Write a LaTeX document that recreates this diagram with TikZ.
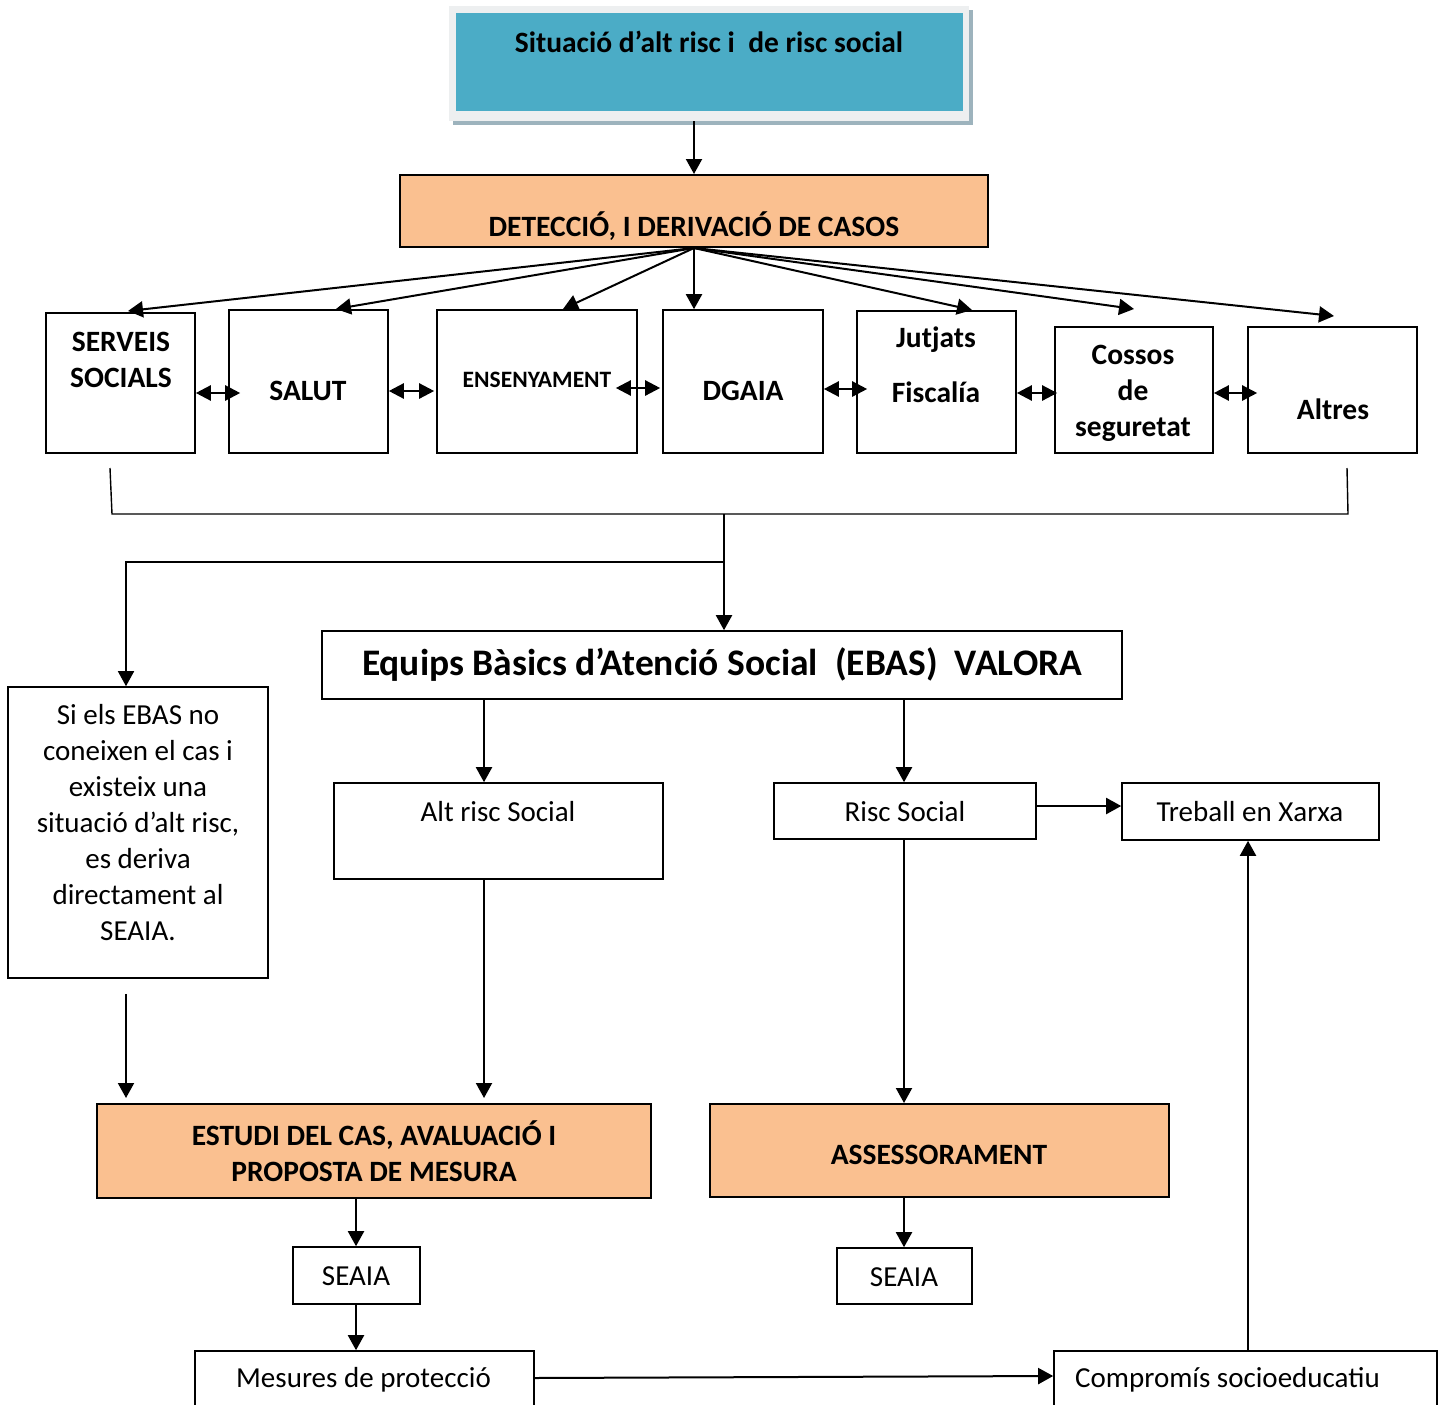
\documentclass[tikz,border=0pt]{standalone}
\usepackage{fontspec}
\setmainfont{Carlito}
\usetikzlibrary{arrows.meta,fit}
\definecolor{tealbox}{HTML}{4BACC6}
\definecolor{orangebox}{HTML}{FAC090}
\definecolor{framegray}{HTML}{EDEFF0}
\definecolor{shadowgray}{HTML}{9DB3BD}
\begin{document}
\begin{tikzpicture}[x=1pt,y=-1pt,
  box/.style={draw,line width=1.6pt,inner sep=0pt},
  obox/.style={box,fill=orangebox,line width=2pt},
  bt/.style={font=\fontsize{29.5}{36}\selectfont\bfseries,inner sep=0pt,align=center},
  rt/.style={font=\fontsize{29}{36}\selectfont,inner sep=0pt,align=center},
  arr/.style={line width=2pt,-{Triangle[length=15pt,width=16pt]}},
  darr/.style={line width=2.4pt,{Triangle[length=15pt,width=15pt]}-{Triangle[length=15pt,width=15pt]}},
  thin/.style={line width=1.4pt}]
\useasboundingbox (0,0) rectangle (1448,1405);
\clip (0,0) rectangle (1448,1405);

% guides for vertical connectors
\coordinate (gL) at (126,0);
\coordinate (gA) at (484,0);
\coordinate (gE) at (356,0);
\coordinate (gR) at (904,0);
\coordinate (gT) at (1248,0);

% title box with its raised frame
\fill[shadowgray] (453,10) rectangle (973,125);
\fill[framegray] (449,6) rectangle (969,121);
\node[fit={(449,6) (969,121)},inner sep=0pt] (topframe) {};
\node[fill=tealbox,inner sep=0pt,fit={(456,13) (963,111)}] (top) {};
\node[bt] (ttop) at (709,42) {Situació d’alt risc i\ \ de risc social};

% detection
\node[obox,fit={(400,175) (988,247)}] (det) {};
\node[bt] (tdet) at (694,226) {DETECCIÓ, I DERIVACIÓ DE CASOS};
\draw[arr] (topframe.south -| det.north) -- (det.north);

% agents row
\node[box,fit={(46,313) (195,453)}] (ss) {};
\node[bt] at (121,360) {SERVEIS\\SOCIALS};
\node[box,fit={(229,310) (388,453)}] (sal) {};
\node[bt] at (308,391) {SALUT};
\node[box,fit={(437,310) (637,453)}] (ens) {};
\node[bt,font=\fontsize{23.5}{28}\selectfont\bfseries] at (537,380) {ENSENYAMENT};
\node[box,fit={(663,310) (823,453)}] (dga) {};
\node[bt] at (743,391) {DGAIA};
\node[box,fit={(857,311) (1016,453)}] (jf) {};
\node[bt] at (936,340) {Jutjats};
\node[bt] at (936,392) {Fiscalía};
\node[box,fit={(1055,327) (1213,453)}] (cos) {};
\node[bt] at (1133,393) {Cossos\\de\\seguretat};
\node[box,fit={(1248,327) (1417,453)}] (alt) {};
\node[bt] at (1333,409) {Altres};

% fan out from detection
\coordinate (fss) at (128,311);
\coordinate (fsal) at (336,309);
\coordinate (fens) at (563,309);
\coordinate (fjf) at (972,310);
\coordinate (fcos) at (1134,309);
\coordinate (falt) at (1334,316);
\foreach \t in {fss,fsal,fens,fjf,fcos,falt}
  \draw[arr] (det.south) -- (\t);
\draw[arr] (det.south) -- (dga.north -| det.south);

% mutual links between agents
\draw[darr] ([yshift=-10pt]ss.east) -- ([xshift=12pt,yshift=-10pt]ss.east -| sal.west);
\draw[darr] ([yshift=-9.5pt]sal.east) -- ([xshift=-2pt,yshift=-9.5pt]sal.east -| ens.west);
\draw[darr] ([xshift=-22pt,yshift=-6.5pt]ens.east) -- ([xshift=-2pt,yshift=-6.5pt]ens.east -| dga.west);
\draw[darr] ([yshift=-7.5pt]dga.east) -- ([xshift=11pt,yshift=-7.5pt]dga.east -| jf.west);
\draw[darr] ([yshift=-11pt]jf.east) -- ([xshift=3pt,yshift=-11pt]jf.east -| cos.west);
\draw[darr] ([yshift=-3pt]cos.east) -- ([xshift=10pt,yshift=-3pt]cos.east -| alt.west);

% collecting bracket
\coordinate (bl) at (110,468);
\coordinate (br) at (1347,468);
\coordinate (jn) at (724,514);
\coordinate (jl) at (724,562);
\draw[thin] (bl) -- (112,514) -- (1348,514) -- (br);

% EBAS
\node[box,fit={(322,631) (1122,699)}] (ebas) {};
\node[bt,font=\fontsize{37.5}{44}\selectfont\bfseries] at (722,665) {Equips Bàsics d’Atenció Social\ \ (EBAS)\ \ VALORA};
\draw[arr] (jn) -- (jn |- ebas.north);

% direct derivation box
\node[box,fit={(8,687) (268,978)}] (dir) {};
\node[rt] at (138,823) {Si els EBAS no\\coneixen el cas i\\existeix una\\situació d’alt risc,\\es deriva\\directament al\\SEAIA.};
\draw[arr,line width=1.6pt] (jl) -| (dir.north -| gL);

% valuations
\node[box,fit={(334,783) (663,879)}] (ars) {};
\node[rt] at (498,812) {Alt risc Social};
\node[box,fit={(774,783) (1036,839)}] (rs) {};
\node[rt] at (905,812) {Risc Social};
\node[box,fit={(1122,783) (1379,840)}] (tx) {};
\node[rt] at (1250,812) {Treball en Xarxa};
\draw[arr] (ebas.south -| gA) -- (ars.north -| gA);
\draw[arr] (ebas.south -| gR) -- (rs.north -| gR);
\draw[arr] ([yshift=5pt]rs.east) -- ([yshift=5pt]rs.east -| tx.west);

% study and advice
\node[obox,fit={(97,1104) (651,1198)}] (est) {};
\node[bt] at (374,1151) {ESTUDI DEL CAS, AVALUACIÓ I\\PROPOSTA DE MESURA};
\node[obox,fit={(710,1104) (1169,1197)}] (ass) {};
\node[bt] at (939,1155) {ASSESSORAMENT};
\draw[arr] ([yshift=-15pt]dir.south -| gL) -- ([yshift=5pt]est.north -| gL);
\draw[arr] (ars.south -| gA) -- ([yshift=5pt]est.north -| gA);
\draw[arr] (rs.south -| gR) -- (ass.north -| gR);

% outcomes
\node[box,fit={(293,1247) (420,1304)}] (sea1) {};
\node[rt] at (356,1276) {SEAIA};
\node[box,fit={(837,1248) (972,1304)}] (sea2) {};
\node[rt] at (904,1277) {SEAIA};
\draw[arr] (est.south -| gE) -- (sea1.north -| gE);
\draw[arr] (ass.south -| gR) -- (sea2.north -| gR);

\node[box,fit={(195,1351) (534,1425)}] (mes) {};
\node[rt,anchor=west] at (236,1380) {Mesures de protecció};
\node[box,fit={(1054,1351) (1437,1425)}] (com) {};
\node[rt,anchor=west] at (1075,1380) {Compromís socioeducatiu};
\draw[arr] (sea1.south -| gE) -- (mes.north -| gE);
\draw[arr] ([yshift=10pt]mes.east) -- ([yshift=12pt]com.west);
\draw[arr] (com.north -| gT) -- (tx.south -| gT);
\end{tikzpicture}
\end{document}
